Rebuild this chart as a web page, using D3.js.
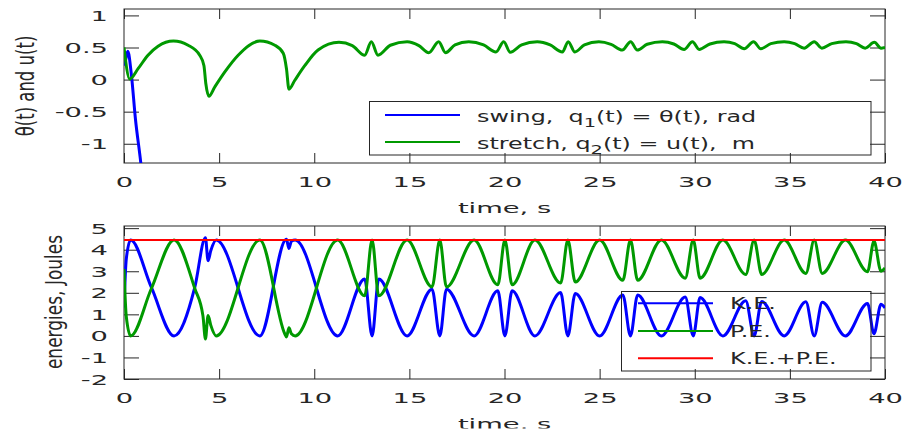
<!DOCTYPE html>
<html>
<head>
<meta charset="utf-8">
<script src="https://cdn.jsdelivr.net/npm/d3@7"></script>
<style>
  html, body { margin: 0; padding: 0; background: #fff; }
  text { font-family: "DejaVu Sans", sans-serif; fill: #262626; white-space: pre; }
</style>
</head>
<body>
<svg id="chart" width="902" height="435"></svg>
<script>
// swing angle theta(t), rad  [t, value]
const thetaPts = [[0,0.22],[0.08,0.3],[0.2,0.44],[0.39,0.07],[0.6,-0.61],[0.88,-1.29],[1.0,-1.62],[1.2,-2.2]];

// stretch u(t), m  [t, value]
const uPts = [
  [0,0.5],[0.3,0.01],[0.74,0.17],[1.26,0.38],[1.79,0.52],[2.6,0.6],[3.37,0.535],[3.98,0.38],
  [4.2,0.22],[4.3,-0.06],[4.46,-0.26],[4.77,-0.115],[5.3,0.12],[6.0,0.38],[7.14,0.6],[7.93,0.535],
  [8.37,0.41],[8.54,0.17],[8.67,-0.15],[8.98,-0.01],[9.51,0.22],[10.2,0.46],[11.3,0.58],[12.0,0.53],
  [12.65,0.38],[13.0,0.59],[13.35,0.38],[14.0,0.535],[14.88,0.59],[15.5,0.53],[16.02,0.42],[16.54,0.59],
  [16.9,0.42],[17.4,0.54],[18.12,0.59],[18.9,0.54],[19.55,0.43],[19.96,0.59],[20.3,0.425],[20.9,0.54],
  [21.72,0.59],[22.4,0.54],[23.04,0.43],[23.35,0.59],[23.7,0.43],[24.2,0.54],[24.96,0.59],[25.6,0.55],
  [26.19,0.46],[26.63,0.59],[26.98,0.46],[27.5,0.55],[28.3,0.59],[28.9,0.555],[29.44,0.47],[29.88,0.59],
  [30.23,0.47],[30.8,0.555],[31.54,0.59],[32.1,0.56],[32.6,0.48],[33.09,0.59],[33.47,0.48],[34.0,0.56],
  [34.7,0.59],[35.25,0.56],[35.75,0.49],[36.28,0.59],[36.68,0.49],[37.2,0.56],[37.95,0.59],[38.5,0.56],
  [38.96,0.49],[39.44,0.58],[39.79,0.49],[40,0.5]
];

// kinetic energy, J
const kePts = [
  [0,1.32],[0.12,3.57],[0.35,4.45],[1.44,2.25],[2.63,0],[3.72,2.25],[4.28,4.55],[4.42,3.49],[4.56,3.95],
  [4.85,4.45],[7.14,0],[8.54,4.48],[8.67,4.06],[8.8,4.4],[9.0,4.45],[11.23,0],[12.65,2.64],[13.04,0],
  [13.39,2.64],[14.88,0],[16.19,2.17],[16.6,0],[16.95,2.17],[18.4,0],[19.65,2.09],[20.02,0],[20.4,2.09],
  [21.6,0],[22.95,2.01],[23.33,0],[23.72,1.97],[25.0,0],[26.22,1.9],[26.62,0],[27.0,1.9],[28.25,0],
  [29.5,1.8],[29.92,0],[30.28,1.78],[31.48,0],[32.68,1.63],[33.12,0],[33.52,1.6],[34.7,0],[35.84,1.58],
  [36.28,0],[36.7,1.56],[37.92,0],[39.08,1.5],[39.42,0.1],[39.79,1.47],[40,1.3]
];

// potential energy, J
const pePts = [
  [0,3.1],[0.12,0.9],[0.35,0],[1.44,2.2],[2.63,4.45],[3.72,2.2],[4.15,0.93],[4.28,-0.14],[4.42,0.95],
  [4.56,0.5],[4.85,0],[7.14,4.45],[8.45,0.1],[8.54,-0.05],[8.67,0.38],[8.8,0.1],[9.0,0],[11.23,4.45],
  [12.65,1.86],[13.04,4.45],[13.39,1.86],[14.88,4.45],[16.19,2.27],[16.6,4.45],[16.95,2.27],[18.4,4.45],
  [19.65,2.37],[20.02,4.45],[20.4,2.37],[21.6,4.45],[22.95,2.45],[23.33,4.45],[23.72,2.5],[25.0,4.45],
  [26.22,2.58],[26.62,4.45],[27.0,2.58],[28.25,4.45],[29.5,2.68],[29.92,4.45],[30.28,2.68],[31.48,4.45],
  [32.68,2.85],[33.12,4.45],[33.52,2.85],[34.7,4.45],[35.84,2.9],[36.28,4.45],[36.7,2.9],[37.92,4.45],
  [39.08,2.98],[39.42,4.4],[39.79,3.0],[40,3.15]
];

// total energy, J
const totalPts = [[0,4.45],[40,4.45]];

const xTicks = [0,5,10,15,20,25,30,35,40];
const yTicksTop = [-1,-0.5,0,0.5,1];
const yTicksBot = [-2,-1,0,1,2,3,4,5];

const BLUE = "#0000ff", GREEN = "#009900", RED = "#ff0000", INK = "#262626";
const SX = 1.95;    // horizontal stretch of tick/axis text
const LSX = 1.49;   // horizontal stretch of legend text
const LFS = "16px"; // legend font size

const svg = d3.select("#chart");

function panel(box, yDomain, yTicks, id) {
  const x = d3.scaleLinear().domain([0, 40]).range([box.x0, box.x1]);
  const y = d3.scaleLinear().domain(yDomain).range([box.y1, box.y0]);

  svg.append("clipPath").attr("id", id)
    .append("rect")
    .attr("x", box.x0).attr("y", box.y0)
    .attr("width", box.x1 - box.x0).attr("height", box.y1 - box.y0);

  // bottom axis with labels
  const gb = svg.append("g")
    .attr("transform", `translate(0,${box.y1})`)
    .call(d3.axisBottom(x).tickValues(xTicks).tickSizeInner(-10).tickSizeOuter(0).tickFormat(d => String(d)));
  gb.selectAll("text")
    .attr("y", 0).attr("dy", 0)
    .attr("transform", `translate(0,23.5) scale(${SX},1)`);

  // top axis ticks
  svg.append("g")
    .attr("transform", `translate(0,${box.y0})`)
    .call(d3.axisTop(x).tickValues(xTicks).tickSizeInner(-10).tickSizeOuter(0).tickFormat(""));

  // left axis with labels
  const gl = svg.append("g")
    .attr("transform", `translate(${box.x0},0)`)
    .call(d3.axisLeft(y).tickValues(yTicks).tickSizeInner(-15).tickSizeOuter(0).tickFormat(d => String(d)));
  gl.selectAll("text")
    .attr("x", 0).attr("dy", "0.36em")
    .attr("transform", `translate(-16,0) scale(${SX},1)`);

  // right axis ticks
  svg.append("g")
    .attr("transform", `translate(${box.x1},0)`)
    .call(d3.axisRight(y).tickValues(yTicks).tickSizeInner(-15).tickSizeOuter(0).tickFormat(""));

  svg.selectAll(".domain").remove();
  svg.selectAll(".tick line").attr("stroke", INK);
  svg.selectAll(".tick text").attr("fill", INK).attr("font-size", null)
    .style("font-size", "14px").style("font-family", "'DejaVu Sans', sans-serif");

  svg.append("rect")
    .attr("x", box.x0).attr("y", box.y0)
    .attr("width", box.x1 - box.x0).attr("height", box.y1 - box.y0)
    .attr("fill", "none").attr("stroke", INK).attr("stroke-width", 1);

  // x axis title
  svg.append("text")
    .attr("transform", `translate(${(box.x0 + box.x1) / 2},${box.y1 + 50}) scale(${SX},1)`)
    .attr("text-anchor", "middle")
    .style("font-size", "14px")
    .text("time, s");

  return { x, y };
}

function drawLine(s, pts, color, width, clip) {
  const line = d3.line()
    .x(d => s.x(d[0]))
    .y(d => s.y(d[1]))
    .curve(d3.curveMonotoneX);
  svg.append("path")
    .datum(pts)
    .attr("clip-path", `url(#${clip})`)
    .attr("d", line)
    .attr("fill", "none")
    .attr("stroke", color)
    .attr("stroke-width", width)
    .attr("stroke-linejoin", "round");
}

// ---- top panel: generalized coordinates
const topBox = { x0: 124, x1: 885, y0: 9, y1: 163 };
const sTop = panel(topBox, [-1.3, 1.1], yTicksTop, "clipTop");
drawLine(sTop, thetaPts, BLUE, 3, "clipTop");
drawLine(sTop, uPts, GREEN, 3, "clipTop");

svg.append("text")
  .attr("transform", "translate(25,86) scale(1.5,1) rotate(-90)")
  .attr("text-anchor", "middle")
  .attr("dominant-baseline", "central")
  .style("font-size", "16.5px")
  .text("θ(t) and u(t)");

// legend top
const lgTop = svg.append("g");
lgTop.append("rect")
  .attr("x", 369.5).attr("y", 101.5).attr("width", 501.5).attr("height", 53.5)
  .attr("fill", "none").attr("stroke", INK);
[[BLUE, 115, "swing,  q", "1", "(t) = θ(t), rad"],
 [GREEN, 142, "stretch, q", "2", "(t) = u(t),  m"]].forEach(r => {
  lgTop.append("line")
    .attr("x1", 385).attr("x2", 460).attr("y1", r[1]).attr("y2", r[1])
    .attr("stroke", r[0]).attr("stroke-width", 2);
  const t = lgTop.append("text")
    .attr("transform", `translate(477,${r[1] + 6.5}) scale(${LSX},1)`)
    .style("font-size", LFS);
  t.append("tspan").text(r[2]);
  t.append("tspan").attr("dy", 5).style("font-size", "13px").text(r[3]);
  t.append("tspan").attr("dy", -5).text(r[4]);
});

// ---- bottom panel: energies
const botBox = { x0: 124, x1: 885, y0: 226, y1: 379 };
const sBot = panel(botBox, [-2, 5.1], yTicksBot, "clipBot");
drawLine(sBot, kePts, BLUE, 3, "clipBot");
drawLine(sBot, pePts, GREEN, 3, "clipBot");
drawLine(sBot, totalPts, RED, 2, "clipBot");

svg.append("text")
  .attr("transform", "translate(54,302) scale(1.35,1) rotate(-90)")
  .attr("text-anchor", "middle")
  .attr("dominant-baseline", "central")
  .style("font-size", "17px")
  .text("energies, Joules");

const lgBot = svg.append("g");
lgBot.append("rect")
  .attr("x", 621.5).attr("y", 291.5).attr("width", 249.5).attr("height", 79.5)
  .attr("fill", "none").attr("stroke", INK);
[[BLUE, 303.3, "K.E."], [GREEN, 331, "P.E."], [RED, 358.3, "K.E.+P.E."]].forEach(r => {
  lgBot.append("line")
    .attr("x1", 638).attr("x2", 713).attr("y1", r[1]).attr("y2", r[1])
    .attr("stroke", r[0]).attr("stroke-width", 2);
  lgBot.append("text")
    .attr("transform", `translate(730,${r[1] + 6}) scale(${LSX},1)`)
    .style("font-size", LFS)
    .text(r[2]);
});

// the figure is cropped just under the lower axis title
svg.append("rect")
  .attr("x", 0).attr("y", 428.5).attr("width", 902).attr("height", 7)
  .attr("fill", "#fff");
</script>
</body>
</html>
